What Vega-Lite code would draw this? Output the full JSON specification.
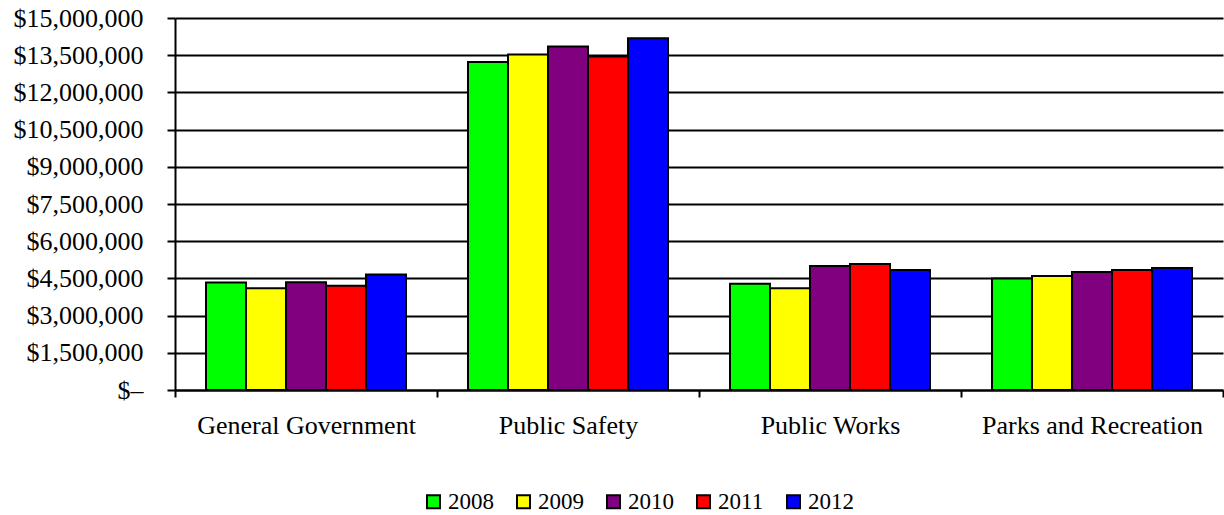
{
  "$schema": "https://vega.github.io/schema/vega-lite/v6.json",
  "autosize": {"type": "none"},
  "padding": {"left": 175, "top": 18, "right": 1, "bottom": 125},
  "width": 1048,
  "height": 372,
  "background": "white",
  "config": {
    "view": {"stroke": null},
    "font": "Liberation Serif",
    "axis": {"labelFont": "Liberation Serif", "labelColor": "black"},
    "legend": {"labelFont": "Liberation Serif", "labelColor": "black"}
  },
  "data": {
    "values": [
      {"function": "General Government", "year": "2008", "amount": 4338000},
      {"function": "General Government", "year": "2009", "amount": 4102000},
      {"function": "General Government", "year": "2010", "amount": 4341000},
      {"function": "General Government", "year": "2011", "amount": 4208000},
      {"function": "General Government", "year": "2012", "amount": 4662000},
      {"function": "Public Safety", "year": "2008", "amount": 13230000},
      {"function": "Public Safety", "year": "2009", "amount": 13530000},
      {"function": "Public Safety", "year": "2010", "amount": 13850000},
      {"function": "Public Safety", "year": "2011", "amount": 13450000},
      {"function": "Public Safety", "year": "2012", "amount": 14180000},
      {"function": "Public Works", "year": "2008", "amount": 4288000},
      {"function": "Public Works", "year": "2009", "amount": 4100000},
      {"function": "Public Works", "year": "2010", "amount": 5000000},
      {"function": "Public Works", "year": "2011", "amount": 5080000},
      {"function": "Public Works", "year": "2012", "amount": 4840000},
      {"function": "Parks and Recreation", "year": "2008", "amount": 4500000},
      {"function": "Parks and Recreation", "year": "2009", "amount": 4600000},
      {"function": "Parks and Recreation", "year": "2010", "amount": 4760000},
      {"function": "Parks and Recreation", "year": "2011", "amount": 4840000},
      {"function": "Parks and Recreation", "year": "2012", "amount": 4920000}
    ]
  },
  "mark": {"type": "bar", "stroke": "black", "strokeWidth": 2, "strokeJoin": "miter"},
  "encoding": {
    "x": {
      "field": "function",
      "type": "nominal",
      "sort": ["General Government", "Public Safety", "Public Works", "Parks and Recreation"],
      "scale": {"paddingInner": 0, "paddingOuter": 0},
      "axis": {
        "title": null,
        "labelAngle": 0,
        "labelFont": "Liberation Serif",
        "labelFontSize": 26,
        "labelLimit": 0,
        "labelPadding": 15,
        "tickBand": "extent",
        "tickSize": 7,
        "tickWidth": 2,
        "tickColor": "black",
        "domainColor": "black",
        "domainWidth": 2,
        "grid": false
      }
    },
    "xOffset": {
      "field": "year",
      "type": "nominal",
      "scale": {"paddingInner": 0, "paddingOuter": 0.775}
    },
    "y": {
      "field": "amount",
      "type": "quantitative",
      "scale": {"domain": [0, 15000000], "nice": false},
      "axis": {
        "title": null,
        "values": [0, 1500000, 3000000, 4500000, 6000000, 7500000, 9000000, 10500000, 12000000, 13500000, 15000000],
        "labelExpr": "datum.value === 0 ? '$–' : format(datum.value, '$,.0f')",
        "labelFont": "Liberation Serif",
        "labelFontSize": 26,
        "labelLimit": 0,
        "labelPadding": 24,
        "tickSize": 8,
        "tickWidth": 2,
        "tickColor": "black",
        "domainColor": "black",
        "domainWidth": 2,
        "grid": true,
        "gridColor": "black",
        "gridWidth": 2,
        "gridOpacity": 1
      }
    },
    "color": {
      "field": "year",
      "type": "nominal",
      "scale": {
        "domain": ["2008", "2009", "2010", "2011", "2012"],
        "range": ["#00FF00", "#FFFF00", "#800080", "#FF0000", "#0000FF"]
      },
      "legend": {
        "title": null,
        "orient": "none",
        "direction": "horizontal",
        "legendX": 247,
        "legendY": 472,
        "symbolType": "square",
        "symbolSize": 169,
        "symbolStrokeColor": "black",
        "symbolStrokeWidth": 2,
        "symbolOpacity": 1,
        "labelFont": "Liberation Serif",
        "labelFontSize": 23,
        "labelColor": "black",
        "labelOffset": 3,
        "columnPadding": 18
      }
    }
  }
}
